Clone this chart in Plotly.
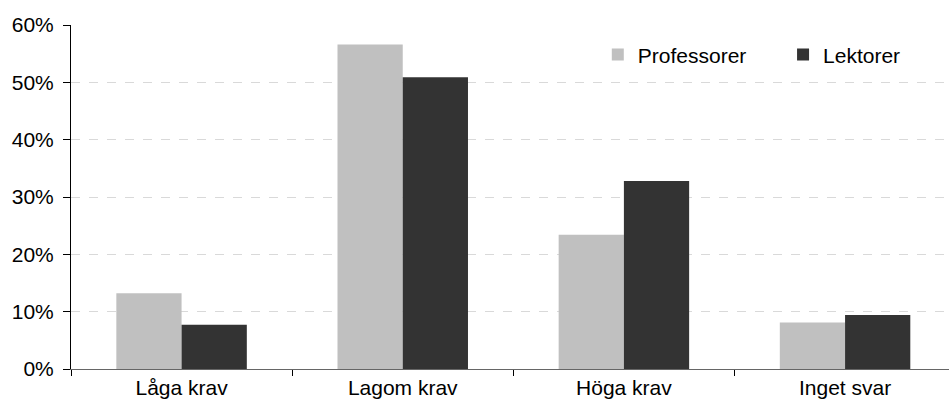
import plotly.graph_objects as go

categories = ["Låga krav", "Lagom krav", "Höga krav", "Inget svar"]
professorer = [13.2, 56.6, 23.4, 8.1]
lektorer = [7.7, 50.9, 32.8, 9.4]
y_ticks = [0, 10, 20, 30, 40, 50, 60]
y_labels = [f"{v}%" for v in y_ticks]

font = dict(family="Liberation Sans, Arial, sans-serif", size=21, color="#000000")

fig = go.Figure()
fig.add_trace(go.Bar(name="Professorer", x=categories, y=professorer,
                     marker=dict(color="#c0c0c0", line=dict(width=0)),
                     legend="legend"))
fig.add_trace(go.Bar(name="Lektorer", x=categories, y=lektorer,
                     marker=dict(color="#333333", line=dict(width=0)),
                     legend="legend2"))

legend_style = dict(orientation="h", yanchor="middle", xanchor="left",
                    bgcolor="rgba(0,0,0,0)", font=font, borderwidth=0)

fig.update_layout(
    width=949, height=410,
    margin=dict(l=71, r=0, t=25, b=41),
    paper_bgcolor="white", plot_bgcolor="white",
    font=font,
    barmode="group", bargap=0.41, bargroupgap=0,
    showlegend=True,
    legend=dict(x=0.600, y=0.913, **legend_style),
    legend2=dict(x=0.811, y=0.913, **legend_style),
)
fig.update_xaxes(
    type="category", range=[-0.5, 3.47],
    showgrid=False, showline=True, linecolor="#666666", linewidth=1,
    ticks="outside", tickson="boundaries", ticklen=6, tickcolor="#000000",
    tickfont=font, zeroline=False, fixedrange=True,
)
fig.update_yaxes(
    range=[0, 60], tickvals=y_ticks, ticktext=y_labels,
    showgrid=True, gridcolor="#d9d9d9", griddash="dash", gridwidth=1,
    showline=True, linecolor="#000000", linewidth=1,
    ticks="outside", ticklen=7, tickcolor="#000000", ticklabelstandoff=5,
    tickfont=font, zeroline=False, fixedrange=True,
)

fig.write_html("out.html")
